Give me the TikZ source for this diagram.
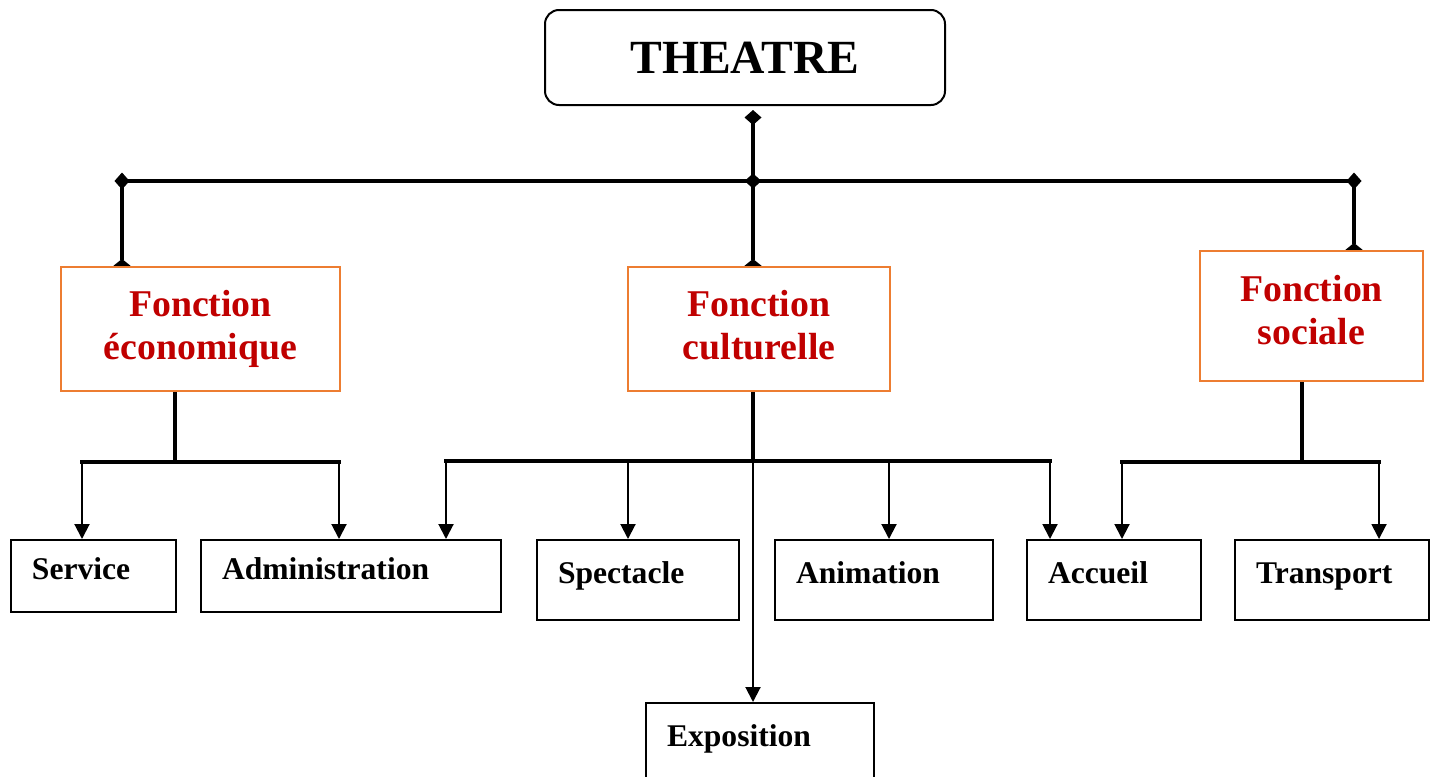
\documentclass[tikz,border=0pt]{standalone}
\usepackage{fontspec}
\setmainfont{Liberation Serif}
\usetikzlibrary{arrows.meta,calc}
\definecolor{orgline}{HTML}{ED7D31}
\definecolor{fnred}{HTML}{C00000}

\begin{document}
\begin{tikzpicture}[
  x=0.5pt,y=-0.5pt,
  line join=miter,
  >={Triangle[width=7.5pt,length=7.5pt]},
  knot/.tip={Diamond[width=8.5pt,length=7.5pt]},
  half/.tip={Triangle[reversed,width=8.5pt,length=3.5pt]},
  root/.style={draw=black,line width=1pt,rounded corners=7pt,minimum width=200pt,minimum height=47.5pt,font=\bfseries\fontsize{23.8}{28}\selectfont},
  func/.style={draw=orgline,line width=1.1pt,text=fnred,align=center,minimum height=62pt,text depth=0.43em,font=\bfseries\fontsize{18.9}{21.5}\selectfont},
  leaf/.style={draw=black,line width=1pt,anchor=north west,inner xsep=10.5pt,align=left,text height=0.75em,text depth=0.40em,font=\bfseries\fontsize{15.8}{19}\selectfont},
  trunk/.style={draw=black,line width=2pt},
  bus/.style={draw=black,line width=1.6pt,line cap=rect},
  branch/.style={draw=black,line width=1pt,->}
]
\useasboundingbox (0,0) rectangle (1433,776);

% top
\node[root] (theatre) at (745,57.5) {THEATRE};

% functions
\node[func,minimum width=139.5pt] (eco) at (200.5,329) {Fonction\\économique};
\node[func,minimum width=131pt] (cult) at (759,329) {Fonction\\culturelle};
\node[func,minimum width=111.5pt,minimum height=65pt,text depth=0.66em] (soc) at (1311.5,316) {Fonction\\sociale};

% leaves
\node[leaf,text width=61.5pt,minimum height=36pt] (service) at (10,539) {Service};
\node[leaf,text width=129pt,minimum height=36pt] (admin) at (200,539) {Administration};
\node[leaf,text width=80pt,minimum height=40pt] (spectacle) at (536,539) {Spectacle};
\node[leaf,text width=88pt,minimum height=40pt] (animation) at (774,539) {Animation};
\node[leaf,text width=66pt,minimum height=40pt] (accueil) at (1026,539) {Accueil};
\node[leaf,text width=76pt,minimum height=40pt] (transport) at (1234,539) {Transport};
\node[leaf,text width=93pt,minimum height=40pt] (exposition) at (645,702) {Exposition};

% theatre -> functions
\coordinate (hub) at (753,181);
\coordinate (hubL) at (122,181);
\coordinate (hubR) at (1354,181);
\draw[trunk,line width=2.4pt,{knot}-{knot},shorten >=-3.75pt] ($(theatre.south)+(8,4)$) -- (hub);
\draw[bus,line cap=butt,{knot}-{knot},shorten <=-3.75pt,shorten >=-3.75pt] (hubL) -- (hubR);
\draw[trunk,-{half}] (hubL) -- (hubL |- eco.north);
\draw[trunk,-{half}] (hub) -- (hub |- cult.north);
\draw[trunk,-{half}] (hubR) -- (hubR |- soc.north);

% economique
\coordinate (ecoJ) at (175,462);
\coordinate (ecoL) at (82,462);
\coordinate (ecoR) at (339,462);
\draw[trunk] (ecoJ |- eco.south) -- (ecoJ);
\draw[bus] (ecoL) -- (ecoR);
\draw[branch] (ecoL) -- (ecoL |- service.north);
\draw[branch] (ecoR) -- (ecoR |- admin.north);

% culturelle
\coordinate (cultJ) at (753,461);
\coordinate (cultL) at (446,461);
\coordinate (cultR) at (1050,461);
\draw[trunk] (cultJ |- cult.south) -- (cultJ);
\draw[bus] (cultL) -- (cultR);
\foreach \x/\leafname in {446/admin,628/spectacle,889/animation,1050/accueil}{
  \coordinate (drop) at (\x,461);
  \draw[branch] (drop) -- (drop |- \leafname.north);
}
\draw[branch] (cultJ) -- (cultJ |- exposition.north);

% sociale
\coordinate (socJ) at (1302,462);
\coordinate (socL) at (1122,462);
\coordinate (socR) at (1379,462);
\draw[trunk] (socJ |- soc.south) -- (socJ);
\draw[bus] (socL) -- (socR);
\draw[branch] (socL) -- (socL |- accueil.north);
\draw[branch] (socR) -- (socR |- transport.north);

\end{tikzpicture}
\end{document}
